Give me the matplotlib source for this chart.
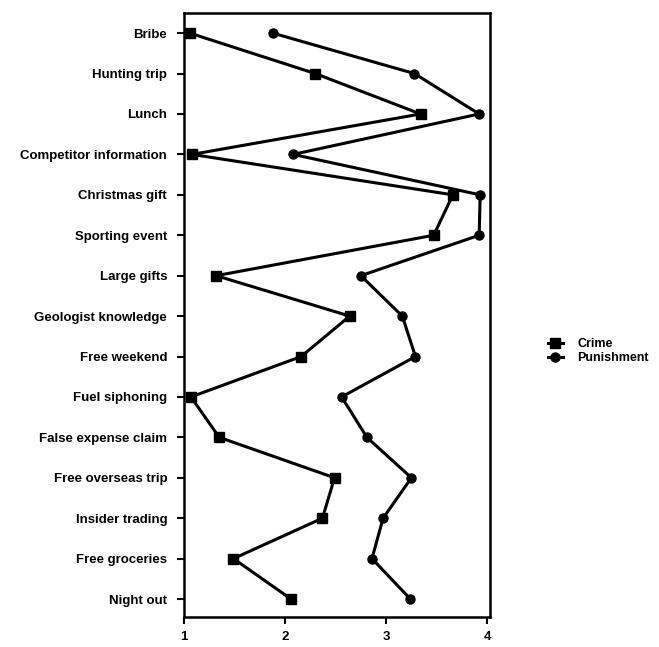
import numpy as np
import matplotlib.pyplot as plt

plt.rcParams['font.family'] = ['Liberation Sans', 'DejaVu Sans']

items = ["Bribe", "Hunting trip", "Lunch", "Competitor information",
         "Christmas gift", "Sporting event", "Large gifts",
         "Geologist knowledge", "Free weekend", "Fuel siphoning",
         "False expense claim", "Free overseas trip", "Insider trading",
         "Free groceries", "Night out"]

crime = [1.06, 2.30, 3.34, 1.08, 3.66, 3.47, 1.32, 2.64, 2.16, 1.07,
         1.35, 2.49, 2.37, 1.49, 2.06]
punishment = [1.88, 3.28, 3.92, 2.08, 3.93, 3.92, 2.75, 3.16, 3.29, 2.56,
              2.81, 3.25, 2.97, 2.86, 3.24]

y = np.arange(len(items))

fig = plt.figure(figsize=(6.59, 6.47), dpi=100)
ax = fig.add_axes([0.279, 0.046, 0.465, 0.934])

ax.plot(crime, y, color='black', lw=2.2, marker='s', ms=7, label='Crime')
ax.plot(punishment, y, color='black', lw=2.2, marker='o', ms=6.5,
        label='Punishment')

ax.set_xlim(1, 4.03)
ax.set_ylim(len(items) - 0.55, -0.5)
ax.set_xticks([1, 2, 3, 4])
ax.set_yticks(y)
ax.set_yticklabels(items)
ax.tick_params(direction='out', length=5, width=1.5, labelsize=9.5, pad=7)
ax.tick_params(axis='x', pad=5)
for lbl in ax.get_xticklabels() + ax.get_yticklabels():
    lbl.set_fontweight('bold')
for s in ax.spines.values():
    s.set_linewidth(1.8)

ax.legend(loc='center left', bbox_to_anchor=(1.15, 0.44), frameon=False,
          handlelength=1.2, handletextpad=1.2, labelspacing=0.15,
          prop={'size': 9, 'weight': 'bold'})

fig.savefig('out.png', dpi=100)
